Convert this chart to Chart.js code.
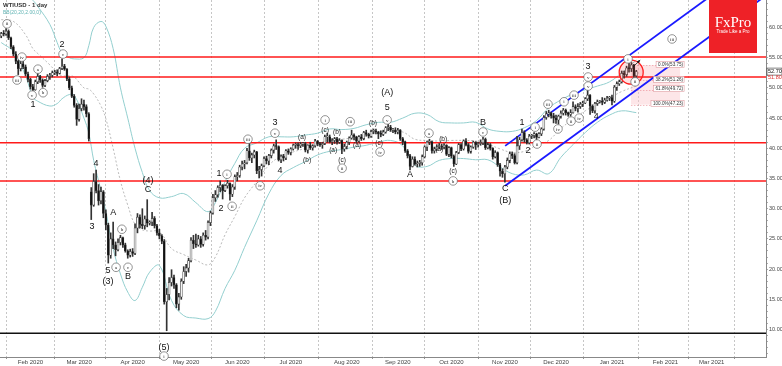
<!DOCTYPE html>
<html>
<head>
<meta charset="utf-8">
<title>WTIUSD - 1 day</title>
<script src="https://cdn.jsdelivr.net/npm/chart.js@4.4.0/dist/chart.umd.min.js"></script>
<style>
  html, body { margin: 0; padding: 0; background: #fff; }
  #wrap { width: 782px; height: 366px; }
</style>
</head>
<body>
<div id="wrap"><canvas id="chart" width="782" height="366"></canvas></div>
<script>
// --- daily candles, bar index 0 = 16 Jan 2020 ---
const opens = [
  58.6,59.0,58.9,59.4,58.3,56.8,55.6,54.4,53.2,54.0, 53.5,52.3,51.4,50.2,49.7,51.0,51.9,51.3,50.4,51.2,
  51.9,52.1,52.5,52.6,52.4,53.2,53.6,53.1,51.5,50.0, 48.6,47.1,44.8,46.6,47.3,46.9,45.7,32.8,30.6,34.5,
  33.0,31.3,32.8,29.2,27.3,22.3,25.0,24.0,23.2,24.4, 25.2,24.0,23.0,22.3,22.9,22.6,26.8,28.6,27.4,27.2,
  28.3,27.6,27.8,28.4,27.2,26.0,25.5,24.6,14.6,15.8, 17.8,18.6,17.4,14.2,15.4,18.0,19.6,20.2,21.4,24.8,
  24.2,24.0,25.0,24.1,25.6,25.3,27.7,29.3,31.8,32.3, 33.5,33.9,33.0,33.8,34.2,32.4,33.6,35.3,35.5,36.9,
  37.4,37.6,39.6,38.4,38.9,39.4,36.3,36.5,37.1,38.3, 37.9,38.8,39.7,40.4,40.3,38.1,38.7,38.4,39.6,39.3,
  39.9,40.5,40.6,40.4,40.7,40.8,39.7,40.5,40.1,40.4, 41.2,40.7,40.6,40.8,41.9,41.9,41.1,41.3,41.6,41.0,
  41.3,39.9,40.3,41.0,41.7,42.2,41.9,41.2,41.9,41.6, 42.6,42.3,42.0,42.8,42.9,42.7,42.4,42.3,42.7,43.4,
  43.5,43.0,43.0,42.7,43.0,41.6,41.1,39.6,38.8,37.0, 38.2,37.4,37.5,37.6,38.6,40.2,41.0,41.1,39.6,39.9,
  40.3,40.4,40.2,40.5,39.0,40.1,38.7,37.4,39.3,40.6, 39.9,41.2,40.6,39.5,40.2,41.0,40.6,40.8,40.9,41.5,
  40.1,40.6,40.0,38.6,39.3,37.3,36.2,35.8,36.9,38.0, 39.1,38.8,37.6,40.4,41.4,42.6,41.4,40.9,42.0,42.1,
  42.4,41.8,42.4,43.2,45.1,45.7,45.8,45.4,45.0,44.7, 45.3,45.8,46.3,45.9,45.6,45.9,46.9,46.6,46.9,47.3,
  47.5,48.2,48.8,47.0,46.2,47.4,47.7,47.8,47.6,48.0, 48.3,48.4,47.8,50.1,50.7,51.0,52.4,52.2,53.3,53.2,
  53.8,52.0
];
const highs = [
  59.2,59.5,59.8,59.6,58.4,57.0,56.0,54.6,54.4,54.6, 53.8,52.6,51.6,50.6,51.3,52.4,52.1,51.5,51.4,52.2,
  52.4,52.8,52.9,53.0,53.4,54.8,53.9,53.2,51.8,50.3, 48.9,47.4,47.3,48.2,48.0,47.2,45.9,33.5,35.8,36.4,
  34.0,33.6,33.0,29.8,27.6,26.0,27.8,24.5,25.0,25.6, 25.3,24.3,23.2,23.3,23.4,27.5,29.2,29.0,30.0,28.8,
  31.5,28.0,29.4,28.7,27.4,26.6,25.7,24.9,16.8,18.6, 19.9,19.0,17.6,16.0,18.4,20.4,20.8,21.8,25.2,25.6,
  25.8,25.6,25.4,26.0,26.4,28.0,29.6,32.4,33.0,33.8, 34.6,34.0,34.0,34.7,34.3,34.0,35.6,36.0,37.2,37.9,
  38.0,40.0,41.0,39.2,39.7,39.5,37.0,37.4,38.6,38.7, 39.0,39.9,40.7,41.4,40.4,38.9,39.0,39.8,39.9,40.1,
  40.7,40.9,40.9,41.0,41.0,41.0,40.6,41.0,40.6,41.5, 41.3,41.0,41.0,42.2,42.5,42.2,41.6,41.8,41.8,41.6,
  41.4,40.7,41.2,41.9,43.0,42.4,42.0,42.1,42.3,42.8, 43.0,42.5,43.0,43.2,43.2,42.8,42.9,43.0,43.6,44.1,
  43.8,43.3,43.4,43.3,43.1,41.8,41.2,39.8,39.0,38.6, 38.6,37.9,38.0,38.9,40.4,41.2,41.5,41.2,40.2,40.6,
  40.8,40.7,40.8,40.6,40.3,40.2,38.9,39.5,40.8,40.8, 41.4,41.6,40.8,40.4,41.2,41.1,41.0,41.4,41.8,41.7,
  40.9,40.8,40.1,39.6,39.4,37.5,36.6,37.2,38.4,39.4, 39.4,39.1,42.0,41.8,43.2,42.9,41.6,42.3,42.3,42.6,
  42.5,42.6,43.4,45.4,46.1,46.3,46.0,45.8,45.5,45.5, 46.2,46.6,46.5,46.0,46.4,47.7,47.2,47.4,47.6,47.8,
  48.4,49.7,48.9,47.2,47.6,48.0,47.9,48.4,48.3,48.6, 48.6,48.8,50.4,51.0,51.3,52.8,52.8,53.6,54.6,54.2,
  53.9,52.9
];
const lows = [
  58.3,58.6,58.7,58.0,56.5,55.3,54.0,52.2,52.8,53.2, 52.0,51.0,49.8,49.3,49.6,50.7,50.9,50.1,50.2,51.0,
  51.4,51.8,52.2,52.0,52.3,53.0,52.9,51.2,49.7,48.4, 46.8,43.8,44.5,46.2,46.3,45.2,41.2,28.2,30.4,32.6,
  30.6,30.8,28.5,26.5,21.0,21.8,23.4,22.2,23.0,24.0, 23.6,22.8,21.8,22.0,22.1,22.4,26.0,26.8,26.7,26.6,
  27.0,27.3,27.2,26.8,25.6,25.0,24.2,14.2,9.8,14.9, 17.2,16.8,13.6,13.2,15.0,17.6,18.8,19.5,21.2,23.4,
  23.6,23.8,23.6,23.8,24.8,25.0,27.2,29.1,31.2,31.9, 32.8,31.6,32.8,33.4,31.4,32.0,33.2,34.6,35.2,36.4,
  36.6,37.4,38.0,37.6,38.4,35.8,35.1,35.4,36.9,37.4, 37.3,38.4,39.2,39.8,37.9,37.6,37.9,38.1,39.0,38.9,
  39.7,40.0,39.8,40.1,40.3,39.4,39.2,39.8,39.7,40.2, 40.4,40.3,40.0,40.6,41.0,40.9,40.6,40.8,40.7,40.8,
  39.1,39.5,39.9,40.6,41.5,41.4,40.9,41.0,41.3,41.4, 42.0,41.7,41.8,42.4,42.4,41.6,41.9,42.1,42.5,42.9,
  42.8,42.6,42.4,42.4,41.3,40.6,39.3,38.4,36.4,36.9, 37.2,36.9,37.0,37.2,38.4,39.6,40.6,39.2,39.2,39.6,
  39.9,39.8,39.9,38.8,38.6,38.4,37.0,37.3,39.1,39.6, 39.7,40.4,39.2,39.2,40.0,39.8,40.2,40.5,40.6,39.8,
  39.9,39.7,38.2,38.4,37.0,35.4,35.2,34.4,36.6,37.6, 38.3,37.4,37.4,39.8,41.2,41.0,40.7,40.7,41.6,41.7,
  41.4,41.7,42.1,43.0,44.8,45.2,45.0,44.2,44.1,44.0, 45.0,45.5,45.5,45.3,45.3,45.8,46.2,46.0,46.6,46.9,
  47.4,47.9,45.6,45.9,45.8,47.1,47.5,47.2,47.4,47.8, 47.9,47.2,47.6,49.6,50.4,50.8,51.6,51.9,52.6,52.7,
  51.6,51.7
];
const closes = [
  59.0,58.9,59.4,58.3,56.8,55.6,54.4,53.2,54.0,53.5, 52.3,51.4,50.2,49.7,51.0,51.9,51.3,50.4,51.2,51.9,
  52.1,52.5,52.6,52.4,53.2,53.6,53.1,51.5,50.0,48.6, 47.1,44.8,46.6,47.3,46.9,45.7,41.6,30.6,34.5,33.0,
  31.3,32.8,29.2,27.3,22.3,25.0,24.0,23.2,24.4,25.2, 24.0,23.0,22.3,22.9,22.6,26.8,28.6,27.4,27.2,28.3,
  27.6,27.8,28.4,27.2,26.0,25.5,24.6,14.6,15.8,17.8, 18.6,17.4,14.2,15.4,18.0,19.6,20.2,21.4,24.8,24.2,
  24.0,25.0,24.1,25.6,25.3,27.7,29.3,31.8,32.3,33.5, 33.9,33.0,33.8,34.2,32.4,33.6,35.3,35.5,36.9,37.4,
  37.6,39.6,38.4,38.9,39.4,36.3,36.5,37.1,38.3,37.9, 38.8,39.7,40.4,40.3,38.1,38.7,38.4,39.6,39.3,39.9,
  40.5,40.6,40.4,40.7,40.8,39.7,40.5,40.1,40.4,41.2, 40.7,40.6,40.8,41.9,41.9,41.1,41.3,41.6,41.0,41.3,
  39.9,40.3,41.0,41.7,42.2,41.9,41.2,41.9,41.6,42.6, 42.3,42.0,42.8,42.9,42.7,42.4,42.3,42.7,43.4,43.5,
  43.0,43.0,42.7,43.0,41.6,41.1,39.6,38.8,37.0,38.2, 37.4,37.5,37.6,38.6,40.2,41.0,41.1,39.6,39.9,40.3,
  40.4,40.2,40.5,39.0,40.1,38.7,37.4,39.3,40.6,39.9, 41.2,40.6,39.5,40.2,41.0,40.6,40.8,40.9,41.5,40.1,
  40.6,40.0,38.6,39.3,37.3,36.2,35.8,36.9,38.0,39.1, 38.8,37.6,40.4,41.4,42.6,41.4,40.9,42.0,42.1,42.4,
  41.8,42.4,43.2,45.1,45.7,45.8,45.4,45.0,44.7,45.3, 45.8,46.3,45.9,45.6,45.9,46.9,46.6,46.9,47.3,47.5,
  48.2,48.8,47.0,46.2,47.4,47.7,47.8,47.6,48.0,48.3, 48.4,47.8,50.1,50.7,51.0,52.4,52.2,53.3,53.2,53.8,
  52.0,52.7
];

// Bollinger band readings (bar index -> price)
const bbIdx   = [0,5,10,13,15,20,23,25,28,30,34,36,38,41,43,46,49,52,55,58,61,65,70,75,80,85,88,92,96,100,
                 105,110,115,120,125,130,135,140,145,150,155,160,165,170,175,180,185,190,195,200,205,210,215,220,225,230,235,240,245,250,255,261];
const bbUpper = [65.0,66.0,65.5,64.5,63.5,60.5,57.5,55.8,55.0,54.8,55.0,57.0,60.0,61.0,60.2,56.5,50.0,45.0,40.0,36.0,33.0,31.8,32.0,32.5,31.0,29.5,31.0,34.5,37.5,40.0,
                 40.9,41.9,41.9,41.9,42.2,42.5,43.2,43.1,43.3,43.9,44.3,44.3,45.0,45.8,45.6,44.4,44.2,44.2,44.3,43.2,42.8,42.8,43.4,44.6,46.7,48.0,49.0,49.7,50.3,51.0,52.5,54.6];
const bbMid   = [61.3,61.0,58.8,56.5,55.7,53.8,52.5,52.0,52.0,51.8,50.0,49.8,49.0,47.0,44.9,40.0,34.6,30.6,27.4,26.5,26.3,26.2,23.4,22.4,21.5,20.7,22.0,25.7,28.7,31.8,
                 34.5,37.2,38.7,39.4,40.0,40.7,41.4,41.5,41.8,42.2,42.7,42.8,42.7,41.5,41.3,41.2,41.3,41.3,41.2,40.7,39.9,39.3,39.5,40.5,41.3,43.3,44.8,46.2,47.3,48.3,49.4,50.3];
const bbLower = [57.5,56.0,52.0,48.5,47.8,47.0,47.4,48.2,48.9,48.8,45.0,42.5,38.0,33.0,29.5,23.4,19.2,16.2,14.8,17.0,19.5,20.6,14.8,12.3,11.9,11.8,13.0,16.8,19.8,23.6,
                 28.0,32.5,35.5,36.8,37.8,38.9,39.5,39.8,40.2,40.5,41.0,41.3,40.4,37.2,37.0,38.0,38.3,38.3,38.1,38.1,36.9,35.8,35.6,36.4,35.8,38.5,40.6,42.6,44.3,45.5,46.2,45.9];

// axis
const monthIdx = [12,32,54,76,97,119,142,163,185,207,228,251,273,292];
const monthLabels = ['Feb 2020','Mar 2020','Apr 2020','May 2020','Jun 2020','Jul 2020','Aug 2020',
                     'Sep 2020','Oct 2020','Nov 2020','Dec 2020','Jan 2021','Feb 2021','Mar 2021'];
const xMin = -0.5, xMax = 314.3;
const yMin = 5.45, yMax = 64.55;

// drawn levels
const redLevels = [55.1, 51.8, 40.9, 34.6];
const blackLevel = 9.4;
const channelX = [207.1, 314.3];
const channelUpper = [40.4, 71.9];
const channelLower = [33.8, 65.3];
const circleAt = { x: 258.9, y: 52.6 };
const arrowX = [259.7, 262.6];
const arrowY = [53.5, 54.6];

// fibonacci retracement
const fibPct = ['0.0%', '38.2%', '61.8%', '100.0%'];
const fibVal = [53.75, 51.26, 49.72, 47.23];
const fibX = [258.8, 279];

// wave labels: text, bar index, price, kind (big / small / circ)
const waveText = ['ii','iv','iii','v','1','a','b','2','c','4','3','A','5','(3)','a','b','c','B','(4)','C','(5)','i',
  '1','i','2','ii','iii','iv','3','v','4','(a)','(b)','i','(c)','(a)','(b)','(c)','ii','iii','(a)','(b)','(c)','iv','v','5','(A)',
  'A','a','(a)','(b)','(c)','b','B','c','C','(B)','1','2','i','ii','iii','iv','i','ii','iii','iv','3','v','v','4','i','ii','iii'];
const waveX = [2.4,8.5,6.5,12.7,13.1,15.1,17.2,25,25.4,39,37.3,46,43.9,43.9,47.2,49.6,52.1,52.1,60.3,60.3,66.9,66.9,
  89.5,92.8,90.3,94.9,101.4,106.4,112.5,112.5,114.6,123.6,125.7,133.1,133.1,136.4,138,140.1,140.1,143.4,146.2,152.8,155.3,155.7,158.6,158.6,158.6,
  168,175.8,180,181.6,185.7,185.7,198,198,207.1,207.1,214,216.5,219.4,220.2,224.7,228.8,231.3,234.2,235.4,237.5,241.2,241.2,241.2,244.5,257.6,260.5,275.7];
const waveY = [60.6,55.1,51.3,48.8,47.3,53.1,49.2,57.1,55.6,37.4,27.0,29.3,19.7,17.9,20.3,26.6,20.3,18.7,34.6,33.1,7.1,5.6,
  35.9,35.7,30.1,30.4,41.5,33.8,44.2,42.5,36.4,41.9,38.1,44.7,43.0,39.7,42.7,38.1,36.7,44.4,40.5,44.2,40.9,39.4,44.7,46.7,49.3,
  35.6,42.5,39.9,41.5,36.2,34.6,44.2,42.7,33.3,31.4,44.2,39.6,43.5,40.7,47.3,43.2,47.7,44.5,48.8,45.0,53.5,51.8,50.3,45.2,54.8,51.0,58.1];
const waveKind = ['circ','circ','circ','circ','big','circ','circ','big','circ','big','big','big','big','big','circ','circ','circ','big','big','big','big','circ',
  'big','circ','big','circ','circ','circ','big','circ','big','small','small','circ','small','small','small','small','circ','circ','small','small','small','circ','circ','big','big',
  'big','circ','small','small','small','circ','big','circ','big','big','big','big','circ','circ','circ','circ','circ','circ','circ','circ','big','circ','circ','big','circ','circ','circ'];

// --- build datasets ---
const wickData = highs.map((h, i) => ({ x: i, y: [lows[i], h] }));
const bodyData = closes.map((c, i) => ({ x: i, y: [opens[i], c] }));
const bodyFill = closes.map((c, i) => (c >= opens[i] ? '#f4f4f4' : '#111111'));

function band(values) {
  return bbIdx.map((x, k) => ({ x: x, y: values[k] }));
}
function hline(v) {
  return [{ x: xMin, y: v }, { x: xMax, y: v }];
}

const datasets = [
  { type: 'bar', data: bodyData, backgroundColor: bodyFill, borderColor: '#333', borderWidth: 0.6,
    borderSkipped: false, barThickness: 2, minBarLength: 1, grouped: false, order: 1 },
  { type: 'bar', data: wickData, backgroundColor: '#333', borderWidth: 0, barThickness: 1,
    grouped: false, order: 2 },
  { type: 'line', data: band(bbUpper), borderColor: '#93cfcf', borderWidth: 1, pointRadius: 0, tension: 0.4, order: 6 },
  { type: 'line', data: band(bbLower), borderColor: '#93cfcf', borderWidth: 1, pointRadius: 0, tension: 0.4, order: 6 },
  { type: 'line', data: band(bbMid), borderColor: '#a8a8a8', borderWidth: 0.8, borderDash: [2, 2], pointRadius: 0, tension: 0.4, order: 6 },
  { type: 'line', data: hline(blackLevel), borderColor: '#111', borderWidth: 1.5, pointRadius: 0, order: 5 },
  { type: 'line', data: [{ x: channelX[0], y: channelUpper[0] }, { x: channelX[1], y: channelUpper[1] }],
    borderColor: '#1a1aff', borderWidth: 1.8, pointRadius: 0, order: 3 },
  { type: 'line', data: [{ x: channelX[0], y: channelLower[0] }, { x: channelX[1], y: channelLower[1] }],
    borderColor: '#1a1aff', borderWidth: 1.8, pointRadius: 0, order: 3 },
  { type: 'scatter', data: [circleAt], pointRadius: 12, pointBackgroundColor: 'rgba(255,60,60,0.15)',
    pointBorderColor: '#ff2020', pointBorderWidth: 1.3, order: 0 }
];
redLevels.forEach(v => {
  datasets.push({ type: 'line', data: hline(v), borderColor: '#ff1a1a', borderWidth: 1.5, pointRadius: 0, order: 5 });
});

// --- overlay drawing (labels, fib, logo) ---
const overlay = {
  id: 'overlay',
  beforeDatasetsDraw(chart) {
    const { ctx, scales: { x, y } } = chart;
    const x0 = x.getPixelForValue(fibX[0]), x1 = x.getPixelForValue(fibX[1]);
    const yTop = y.getPixelForValue(fibVal[0]), yBot = y.getPixelForValue(fibVal[3]);
    ctx.save();
    ctx.fillStyle = 'rgba(250,200,205,0.45)';
    ctx.fillRect(x0, yTop, x1 - x0, yBot - yTop);
    ctx.strokeStyle = 'rgba(230,110,120,0.8)';
    ctx.lineWidth = 0.6;
    ctx.setLineDash([1.5, 1.5]);
    fibVal.forEach(v => {
      const py = Math.round(y.getPixelForValue(v)) + 0.5;
      ctx.beginPath(); ctx.moveTo(x0, py); ctx.lineTo(x1, py); ctx.stroke();
    });
    ctx.restore();
  },
  afterDatasetsDraw(chart) {
    const { ctx, scales: { x, y } } = chart;
    ctx.save();
    // fib labels
    ctx.font = '4.6px "Liberation Sans"';
    ctx.textAlign = 'right';
    ctx.textBaseline = 'middle';
    const xr = x.getPixelForValue(fibX[1]) + 3;
    fibVal.forEach((v, k) => {
      const t = fibPct[k] + '(' + v.toFixed(2) + ')';
      const w = ctx.measureText(t).width;
      const py = y.getPixelForValue(v) - 1;
      ctx.fillStyle = '#fff';
      ctx.fillRect(xr - w - 2, py - 3, w + 3, 6);
      ctx.strokeStyle = '#d98a90';
      ctx.lineWidth = 0.5;
      ctx.strokeRect(xr - w - 2, py - 3, w + 3, 6);
      ctx.fillStyle = '#333';
      ctx.fillText(t, xr, py + 0.3);
    });

    // arrow
    const ax0 = x.getPixelForValue(arrowX[0]), ay0 = y.getPixelForValue(arrowY[0]);
    const ax1 = x.getPixelForValue(arrowX[1]), ay1 = y.getPixelForValue(arrowY[1]);
    ctx.strokeStyle = '#111'; ctx.fillStyle = '#111'; ctx.lineWidth = 0.8;
    ctx.beginPath(); ctx.moveTo(ax0, ay0); ctx.lineTo(ax1, ay1); ctx.stroke();
    const ang = Math.atan2(ay1 - ay0, ax1 - ax0);
    ctx.beginPath();
    ctx.moveTo(ax1, ay1);
    ctx.lineTo(ax1 - 3.5 * Math.cos(ang - 0.45), ay1 - 3.5 * Math.sin(ang - 0.45));
    ctx.lineTo(ax1 - 3.5 * Math.cos(ang + 0.45), ay1 - 3.5 * Math.sin(ang + 0.45));
    ctx.closePath(); ctx.fill();

    // wave labels
    ctx.textAlign = 'center';
    ctx.textBaseline = 'middle';
    waveText.forEach((t, k) => {
      const px = x.getPixelForValue(waveX[k]);
      const py = y.getPixelForValue(waveY[k]);
      const kind = waveKind[k];
      if (kind === 'circ') {
        ctx.beginPath();
        ctx.arc(px, py, 4.3, 0, Math.PI * 2);
        ctx.fillStyle = '#fff'; ctx.fill();
        ctx.strokeStyle = '#666'; ctx.lineWidth = 0.7; ctx.stroke();
        ctx.fillStyle = '#222';
        ctx.font = '5px "Liberation Serif"';
        ctx.fillText(t, px, py + 0.3);
      } else if (kind === 'small') {
        ctx.fillStyle = '#222';
        ctx.font = '6.5px "Liberation Sans"';
        ctx.fillText(t, px, py);
      } else {
        ctx.fillStyle = '#111';
        ctx.font = '9px "Liberation Sans"';
        ctx.fillText(t, px, py);
      }
    });
    ctx.restore();
  },
  afterDraw(chart) {
    const { ctx, chartArea, scales: { y } } = chart;
    ctx.save();
    // title
    ctx.textAlign = 'left';
    ctx.textBaseline = 'middle';
    ctx.fillStyle = '#333';
    ctx.font = 'bold 6px "Liberation Sans"';
    ctx.fillText('WTIUSD - 1 day', 3, 5);
    ctx.fillStyle = '#5fb3b3';
    ctx.font = '5px "Liberation Sans"';
    ctx.fillText('BB(20,20,2.00,0)', 3, 12.5);

    // FxPro logo
    ctx.fillStyle = '#ee2127';
    ctx.fillRect(709, 0, 48, 53);
    ctx.fillStyle = '#fff';
    ctx.textAlign = 'center';
    ctx.font = '15px "Liberation Serif"';
    ctx.fillText('FxPro', 733, 23);
    ctx.font = '4.5px "Liberation Sans"';
    ctx.fillText('Trade Like a Pro', 733, 32);

    // price boxes on the axis
    const last = closes[closes.length - 1];
    const pyLast = y.getPixelForValue(last);
    ctx.textAlign = 'left';
    ctx.font = '5.5px "Liberation Sans"';
    ctx.fillStyle = '#fff';
    ctx.fillRect(chartArea.right + 1, pyLast - 3.5, 15, 7);
    ctx.strokeStyle = '#333'; ctx.lineWidth = 0.6;
    ctx.strokeRect(chartArea.right + 1, pyLast - 3.5, 15, 7);
    ctx.fillStyle = '#111';
    ctx.fillText(last.toFixed(2), chartArea.right + 2, pyLast + 0.3);
    const pyRed = y.getPixelForValue(redLevels[1]);
    ctx.fillStyle = '#e03030';
    ctx.fillText(redLevels[1].toFixed(2), chartArea.right + 2, pyRed + 0.3);
    ctx.restore();
  }
};

Chart.defaults.font.family = '"Liberation Sans", Arial, sans-serif';

new Chart(document.getElementById('chart'), {
  type: 'bar',
  data: { datasets: datasets },
  plugins: [overlay],
  options: {
    responsive: false,
    animation: false,
    events: [],
    layout: { padding: 0, autoPadding: false },
    plugins: { legend: { display: false }, tooltip: { enabled: false } },
    scales: {
      x: {
        type: 'linear', min: xMin, max: xMax, offset: false,
        afterBuildTicks: axis => { axis.ticks = monthIdx.map(v => ({ value: v })); },
        afterFit: axis => { axis.height = 9; axis.paddingLeft = 0; axis.paddingRight = 0; },
        ticks: {
          autoSkip: false, maxRotation: 0, padding: 0, color: '#444',
          font: { size: 6 },
          callback: v => monthLabels[monthIdx.indexOf(v)] || ''
        },
        grid: { color: '#b8b8b8', lineWidth: 0.8, tickLength: 2, tickColor: '#777' },
        border: { display: true, color: '#888', width: 1, dash: [2, 2] }
      },
      y: {
        type: 'linear', position: 'right', min: yMin, max: yMax,
        afterBuildTicks: axis => {
          const t = [];
          for (let v = 6; v <= 64; v++) t.push({ value: v });
          axis.ticks = t;
        },
        afterFit: axis => { axis.width = 16; axis.paddingTop = 0; axis.paddingBottom = 0; },
        ticks: {
          autoSkip: false, padding: 1, color: '#444', font: { size: 5.5 },
          callback: v => (v % 5 === 0 && v >= 10 && v <= 60 ? v.toFixed(2) : '')
        },
        grid: { drawOnChartArea: false, tickLength: 2, tickColor: '#777', lineWidth: 0.6 },
        border: { display: true, color: '#888', width: 1 }
      }
    }
  }
});
</script>
</body>
</html>
